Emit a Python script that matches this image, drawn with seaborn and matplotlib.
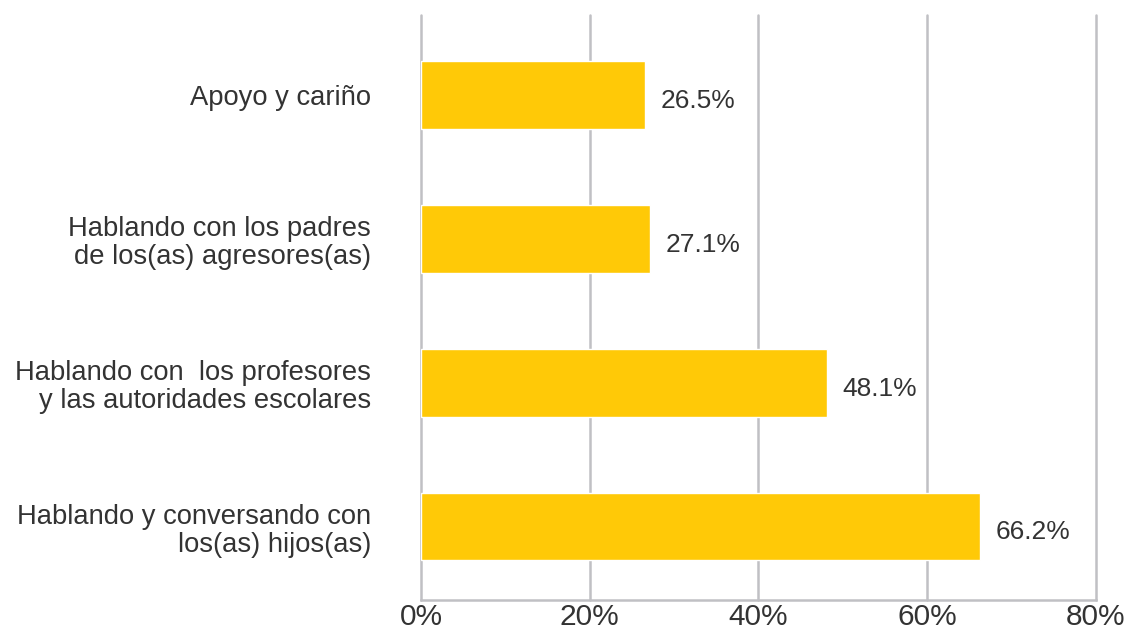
import matplotlib
matplotlib.use("Agg")
import matplotlib.pyplot as plt
import seaborn as sns
import pandas as pd

categories = [
    "Apoyo y cariño",
    "Hablando con los padres\nde los(as) agresores(as)",
    "Hablando con  los profesores\ny las autoridades escolares",
    "Hablando y conversando con\nlos(as) hijos(as)",
]
values = [26.5, 27.1, 48.1, 66.2]
x_ticks = [0, 20, 40, 60, 80]
x_tick_labels = ["0%", "20%", "40%", "60%", "80%"]

bar_color = "#FFC907"
grid_color = "#C0C0C4"
text_color = "#333333"

sns.set_theme(style="white")
plt.rcParams["font.family"] = ["Liberation Sans", "DejaVu Sans"]

df = pd.DataFrame({"categoria": categories, "valor": values})

fig = plt.figure(figsize=(11.31, 6.31), dpi=100)
ax = fig.add_axes([0.3722, 0.0491, 0.5968, 0.9269])

sns.barplot(data=df, y="categoria", x="valor", orient="h", color=bar_color,
            saturation=1, width=0.47, ax=ax, zorder=3)

ax.set_xlim(0, 80)
ax.set_ylim(3.51, -0.556)
ax.set_xticks(x_ticks)
ax.set_xticklabels(x_tick_labels, fontsize=21.5, color=text_color)
ax.tick_params(axis="x", length=0, pad=2)
ax.tick_params(axis="y", length=0, pad=36, labelsize=19.7, labelcolor=text_color)
for lbl in ax.get_yticklabels():
    lbl.set_horizontalalignment("right")
    lbl.set_multialignment("right")
    lbl.set_linespacing(1.1)

ax.set_xlabel("")
ax.set_ylabel("")
ax.xaxis.grid(True, color=grid_color, linewidth=1.8, zorder=0)
for gl in ax.get_xgridlines():
    gl.set_clip_on(False)
ax.yaxis.grid(False)
for side in ["top", "right", "left"]:
    ax.spines[side].set_visible(False)
ax.spines["bottom"].set_color(grid_color)
ax.spines["bottom"].set_linewidth(1.8)

for i, v in enumerate(values):
    ax.text(v + 1.9, i + 0.04, f"{v:.1f}%", va="center", ha="left",
            fontsize=19, color=text_color)

fig.savefig("out.png", dpi=100)
